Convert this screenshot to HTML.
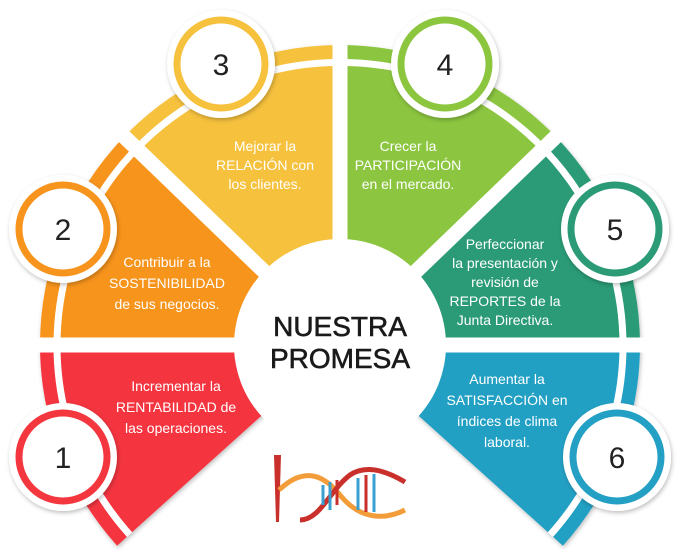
<!DOCTYPE html>
<html><head><meta charset="utf-8"><style>
html,body{margin:0;padding:0;background:#fff;}
svg{display:block}
text{font-family:"Liberation Sans",sans-serif;}
.t{fill:#fff;font-size:14px;text-anchor:middle;}
.n{fill:#222;font-size:30px;text-anchor:middle;}
</style></head><body>
<svg width="686" height="558" viewBox="0 0 686 558" xmlns="http://www.w3.org/2000/svg">
<defs>
<filter id="sh" x="-20%" y="-20%" width="140%" height="140%"><feDropShadow dx="1" dy="2" stdDeviation="2" flood-color="#000" flood-opacity="0.25"/></filter>
</defs>
<g filter="url(#sh)">
<path d="M117.1,545.7 A300,300 0 0 1 40,345 L240,345 A100,100 0 0 0 265.7,411.9 Z" fill="#f4363f"/>
<path d="M40,345 A300,300 0 0 1 124.2,136.6 L268.1,275.5 A100,100 0 0 0 240,345 Z" fill="#f7941d"/>
<path d="M124.2,136.6 A300,300 0 0 1 340,45 L340,245 A100,100 0 0 0 268.1,275.5 Z" fill="#f6c13c"/>
<path d="M340,45 A300,300 0 0 1 555.8,136.6 L411.9,275.5 A100,100 0 0 0 340,245 Z" fill="#8cc63f"/>
<path d="M555.8,136.6 A300,300 0 0 1 640,345 L440,345 A100,100 0 0 0 411.9,275.5 Z" fill="#2a9b76"/>
<path d="M640,345 A300,300 0 0 1 562.9,545.7 L414.3,411.9 A100,100 0 0 0 440,345 Z" fill="#24a0c4"/>
</g>
<path d="M129.6,534.6 A283,283 0 1 1 550.4,534.6" fill="none" stroke="#fff" stroke-width="7"/>
<circle cx="340" cy="345" r="106" fill="#fff"/>
<g stroke="#fff" stroke-width="15">
<line x1="30" y1="345" x2="250" y2="345"/>
<line x1="110" y1="123" x2="275" y2="282"/>
<line x1="340" y1="35" x2="340" y2="255"/>
<line x1="570" y1="123" x2="405" y2="282"/>
<line x1="650" y1="345" x2="430" y2="345"/>
</g>
<g>
<g filter="url(#sh)">
<circle cx="63" cy="457" r="54" fill="#fff"/>
<circle cx="63" cy="229" r="54" fill="#fff"/>
<circle cx="221" cy="64" r="54" fill="#fff"/>
<circle cx="445" cy="64" r="54" fill="#fff"/>
<circle cx="615" cy="229" r="54" fill="#fff"/>
<circle cx="617" cy="457" r="54" fill="#fff"/>
</g>
<circle cx="63" cy="457" r="44" fill="#fff" stroke="#f4363f" stroke-width="7"/>
<circle cx="63" cy="229" r="44" fill="#fff" stroke="#f7941d" stroke-width="7"/>
<circle cx="221" cy="64" r="44" fill="#fff" stroke="#f6c13c" stroke-width="7"/>
<circle cx="445" cy="64" r="44" fill="#fff" stroke="#8cc63f" stroke-width="7"/>
<circle cx="615" cy="229" r="44" fill="#fff" stroke="#2a9b76" stroke-width="7"/>
<circle cx="617" cy="457" r="44" fill="#fff" stroke="#24a0c4" stroke-width="7"/>
<text class="n" x="63" y="468">1</text>
<text class="n" x="63" y="240">2</text>
<text class="n" x="221" y="75">3</text>
<text class="n" x="445" y="75">4</text>
<text class="n" x="615" y="240">5</text>
<text class="n" x="617" y="468">6</text>
</g>
<text class="t"><tspan x="176" y="391">Incrementar la</tspan><tspan x="176" y="412">RENTABILIDAD de</tspan><tspan x="176" y="433">las operaciones.</tspan></text>
<text class="t"><tspan x="167" y="267">Contribuir a la</tspan><tspan x="167" y="288">SOSTENIBILIDAD</tspan><tspan x="167" y="309">de sus negocios.</tspan></text>
<text class="t"><tspan x="265" y="151">Mejorar la</tspan><tspan x="265" y="170">RELACIÓN con</tspan><tspan x="265" y="189">los clientes.</tspan></text>
<text class="t"><tspan x="408" y="151">Crecer la</tspan><tspan x="408" y="170">PARTICIPACIÓN</tspan><tspan x="408" y="189">en el mercado.</tspan></text>
<text class="t"><tspan x="505" y="249">Perfeccionar</tspan><tspan x="505" y="268">la presentación y</tspan><tspan x="505" y="287">revisión de</tspan><tspan x="505" y="306">REPORTES de la</tspan><tspan x="505" y="325">Junta Directiva.</tspan></text>
<text class="t"><tspan x="507" y="384">Aumentar la</tspan><tspan x="507" y="405">SATISFACCIÓN en</tspan><tspan x="507" y="426">índices de clima</tspan><tspan x="507" y="447">laboral.</tspan></text>
<text x="340" y="336" style="font-size:28px;fill:#1a1a1a;text-anchor:middle;stroke:#1a1a1a;stroke-width:0.6">NUESTRA</text>
<text x="340" y="368" style="font-size:28px;fill:#1a1a1a;text-anchor:middle;stroke:#1a1a1a;stroke-width:0.6">PROMESA</text>
<g>
<path d="M274,455 L281,455 L279,522 L276,522 Z" fill="#c9302c"/>
<path d="M279,490 C300,470 320,470 340,495 C360,520 385,520 405,510" fill="none" stroke="#f39c3a" stroke-width="5"/>
<path d="M300,520 C320,520 330,490 350,475 C365,465 385,470 405,482" fill="none" stroke="#c9302c" stroke-width="5"/>
<g stroke-width="3">
<line x1="323" y1="485" x2="323" y2="505" stroke="#3aa0d0"/>
<line x1="330" y1="482" x2="330" y2="510" stroke="#3aa0d0"/>
<line x1="337" y1="480" x2="337" y2="505" stroke="#c9302c"/>
<line x1="358" y1="478" x2="358" y2="510" stroke="#3aa0d0"/>
<line x1="366" y1="475" x2="366" y2="512" stroke="#c9302c"/>
<line x1="374" y1="474" x2="374" y2="512" stroke="#3aa0d0"/>
</g>
</g>
</svg>
</body></html>
